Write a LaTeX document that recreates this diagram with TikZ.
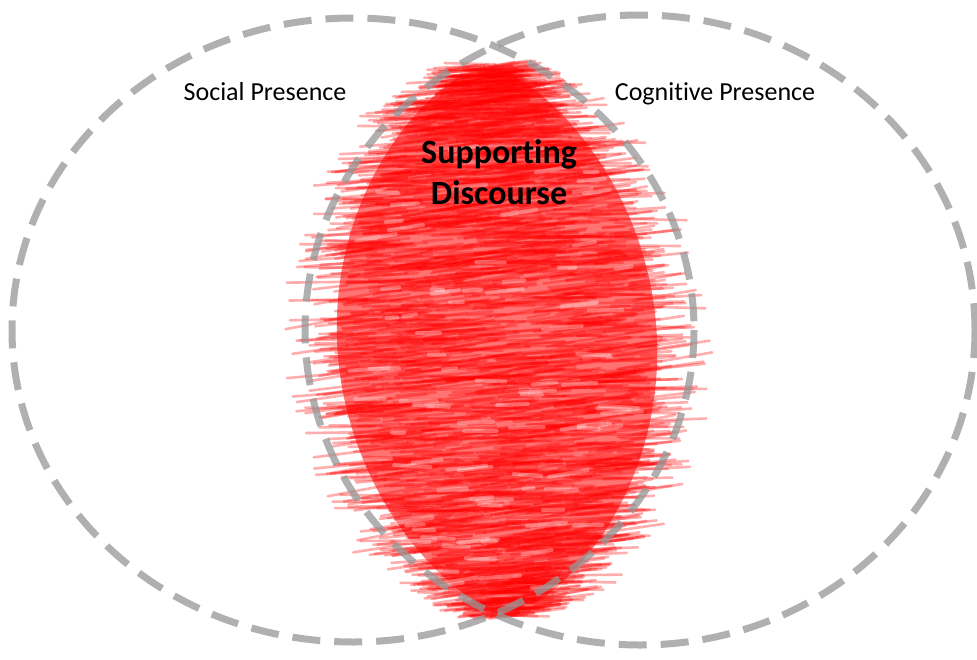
\documentclass[tikz,border=0pt]{standalone}
\usepackage{fontspec}
\setmainfont{Carlito}[Ligatures=NoCommon]
\definecolor{dashgray}{RGB}{150,150,150}
\definecolor{scribred}{RGB}{255,0,0}
\begin{document}
\begin{tikzpicture}[x=1pt,y=-1pt,
  venn/.style={draw=dashgray, opacity=0.75, line width=7pt, dash pattern=on 28pt off 14pt},
  lbl/.style={font=\fontsize{26}{31}\selectfont, anchor=base},
  core/.style={font=\fontsize{34}{41}\selectfont\bfseries, align=center},
  scrib/.style={scribred, opacity=0.32, line width=2.6pt, line cap=round}]
\useasboundingbox (0,0) rectangle (977,659);
% red scribble base (lens-like)
\fill[scribred, opacity=0.55]
  plot[domain=-0.96:0.96, samples=60] ({497+10*\x+160*(1-\x*\x)^0.7},{340+275*\x})
  -- plot[domain=0.96:-0.96, samples=60] ({497+10*\x-160*(1-\x*\x)^0.7},{340+275*\x}) -- cycle;
\pgfmathsetseed{11}
\foreach \i in {1,...,2200}{
  \pgfmathsetmacro{\tt}{-0.97+rnd*1.94}
  \pgfmathsetmacro{\yy}{340+285*\tt}
  \pgfmathsetmacro{\hw}{172*(1-\tt*\tt)^0.7}
  \pgfmathsetmacro{\xc}{497+10*\tt-\hw+rnd*(2*\hw)}
  \pgfmathsetmacro{\len}{min(20+rnd*80,1.2*\hw+15)}
  \pgfmathsetmacro{\ang}{-11+rnd*13}
  \draw[scrib] (\xc,\yy) ++(\ang+180:\len/2) -- ++(\ang:\len);
}
\foreach \i in {1,...,90}{
  \pgfmathsetmacro{\tt}{-0.7+rnd*1.6}
  \pgfmathsetmacro{\yy}{340+280*\tt}
  \pgfmathsetmacro{\hw}{140*(1-\tt*\tt)^0.7}
  \pgfmathsetmacro{\xc}{497-\hw+rnd*(2*\hw)}
  \pgfmathsetmacro{\len}{10+rnd*30}
  \pgfmathsetmacro{\ang}{-10+rnd*14}
  \draw[white, opacity=0.3, line width=4pt, line cap=round] (\xc,\yy) ++(\ang+180:\len/2) -- ++(\ang:\len);
}
% circles
\draw[venn] (353,330) ellipse [x radius=341, y radius=312];
\draw[venn] (640,330) ellipse [x radius=335, y radius=315];
% labels
\node[lbl] (social) at (265,100) {Social Presence};
\node[lbl] (cog) at (715,100) {Cognitive Presence};
\node[core] (disc) at (499,172) {Supporting\\Discourse};
\end{tikzpicture}
\end{document}
